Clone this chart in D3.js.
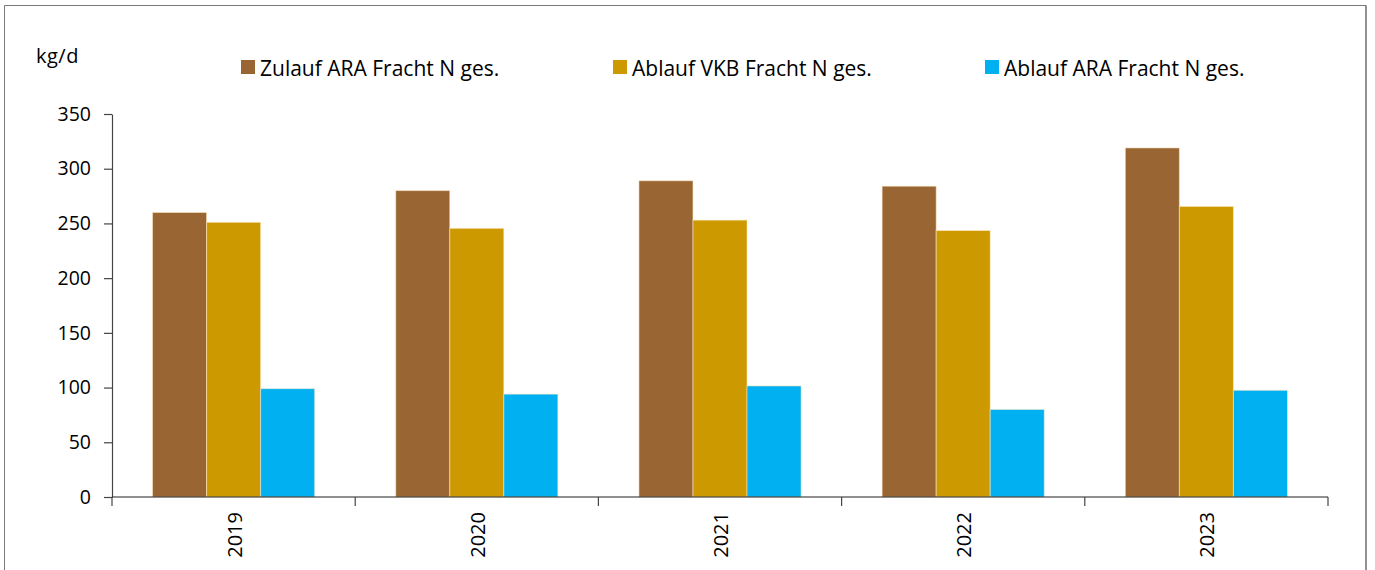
<!DOCTYPE html>
<html><head><meta charset="utf-8">
<script src="https://cdn.jsdelivr.net/npm/d3@7"></script>
<style>body{margin:0;background:#fff}svg{display:block}text{font-family:"Open Sans","Noto Sans",sans-serif;fill:#000}</style>
</head><body>
<svg id="c" width="1375" height="570"></svg>
<script>
const years = ["2019","2020","2021","2022","2023"];
const seriesNames = ["Zulauf ARA Fracht N ges.","Ablauf VKB Fracht N ges.","Ablauf ARA Fracht N ges."];
const zulaufARA = [260, 280, 289, 284, 319];
const ablaufVKB = [251, 245.5, 253, 243.5, 265.5];
const ablaufARA = [99, 94, 101.5, 80, 97.5];
const yTicks = [0,50,100,150,200,250,300,350];
const colors = ["#996633","#CC9900","#00B0F0"];
const unitLabel = "kg/d";

const series = [zulaufARA, ablaufVKB, ablaufARA];
const svg = d3.select("#c");
const FF = '"Open Sans","Noto Sans",sans-serif';

// frame
svg.append("line").attr("x1",4.5).attr("y1",5.5).attr("x2",1366).attr("y2",5.5).attr("stroke","#7a7a7a");
svg.append("line").attr("x1",4.5).attr("y1",5.5).attr("x2",4.5).attr("y2",570).attr("stroke","#7a7a7a");
svg.append("line").attr("x1",1366).attr("y1",5.5).attr("x2",1366).attr("y2",570).attr("stroke","#222");

const x0 = d3.scaleBand().domain(years).range([112,1328]).paddingInner(0).paddingOuter(0);
const x1 = d3.scaleBand().domain(d3.range(3)).range([0,x0.bandwidth()]).paddingOuter(0.75).paddingInner(0);
const y = d3.scaleLinear().domain([0,350]).range([497,114]);

// bars
const g = svg.append("g");
years.forEach((yr,i)=>{
  series.forEach((s,j)=>{
    g.append("rect")
      .attr("x", x0(yr)+x1(j))
      .attr("y", y(s[i]))
      .attr("width", x1.bandwidth())
      .attr("height", y(0)-y(s[i]))
      .attr("fill", colors[j])
      .attr("stroke","rgba(255,235,200,0.55)")
      .attr("stroke-width",1);
  });
});

// y axis
const yAxis = d3.axisLeft(y).tickValues(yTicks).tickSize(8).tickPadding(13).tickSizeOuter(0);
const ya = svg.append("g").attr("transform","translate(112,0)").call(yAxis);
ya.selectAll("path,line").attr("stroke","#444").attr("stroke-width",1.2);
ya.selectAll("text").attr("font-size","19.5px").attr("font-family",FF).attr("fill","#000");

// x axis
const xScaleTicks = d3.scaleLinear().domain([0,5]).range([112,1328]);
const xa = svg.append("g");
xa.append("line").attr("x1",112).attr("x2",1328).attr("y1",497).attr("y2",497).attr("stroke","#222").attr("stroke-width",1.2);
d3.range(6).forEach(k=>{
  xa.append("line").attr("x1",xScaleTicks(k)).attr("x2",xScaleTicks(k)).attr("y1",497).attr("y2",506).attr("stroke","#444").attr("stroke-width",1.2);
});
years.forEach(yr=>{
  const cx = x0(yr)+x0.bandwidth()/2;
  xa.append("text").attr("transform",`translate(${cx+8},512) rotate(-90)`)
    .attr("text-anchor","end").attr("font-size","20px").text(yr);
});

// unit label
svg.append("text").attr("x",36).attr("y",63).attr("font-size","20px").attr("letter-spacing","0.5px").text(unitLabel);

// legend
const legX = [241, 613, 985];
seriesNames.forEach((n,j)=>{
  svg.append("rect").attr("x",legX[j]).attr("y",60).attr("width",14).attr("height",14).attr("fill",colors[j]);
  svg.append("text").attr("x",legX[j]+19).attr("y",76).attr("font-size","21px").text(n);
});
</script>
</body></html>
